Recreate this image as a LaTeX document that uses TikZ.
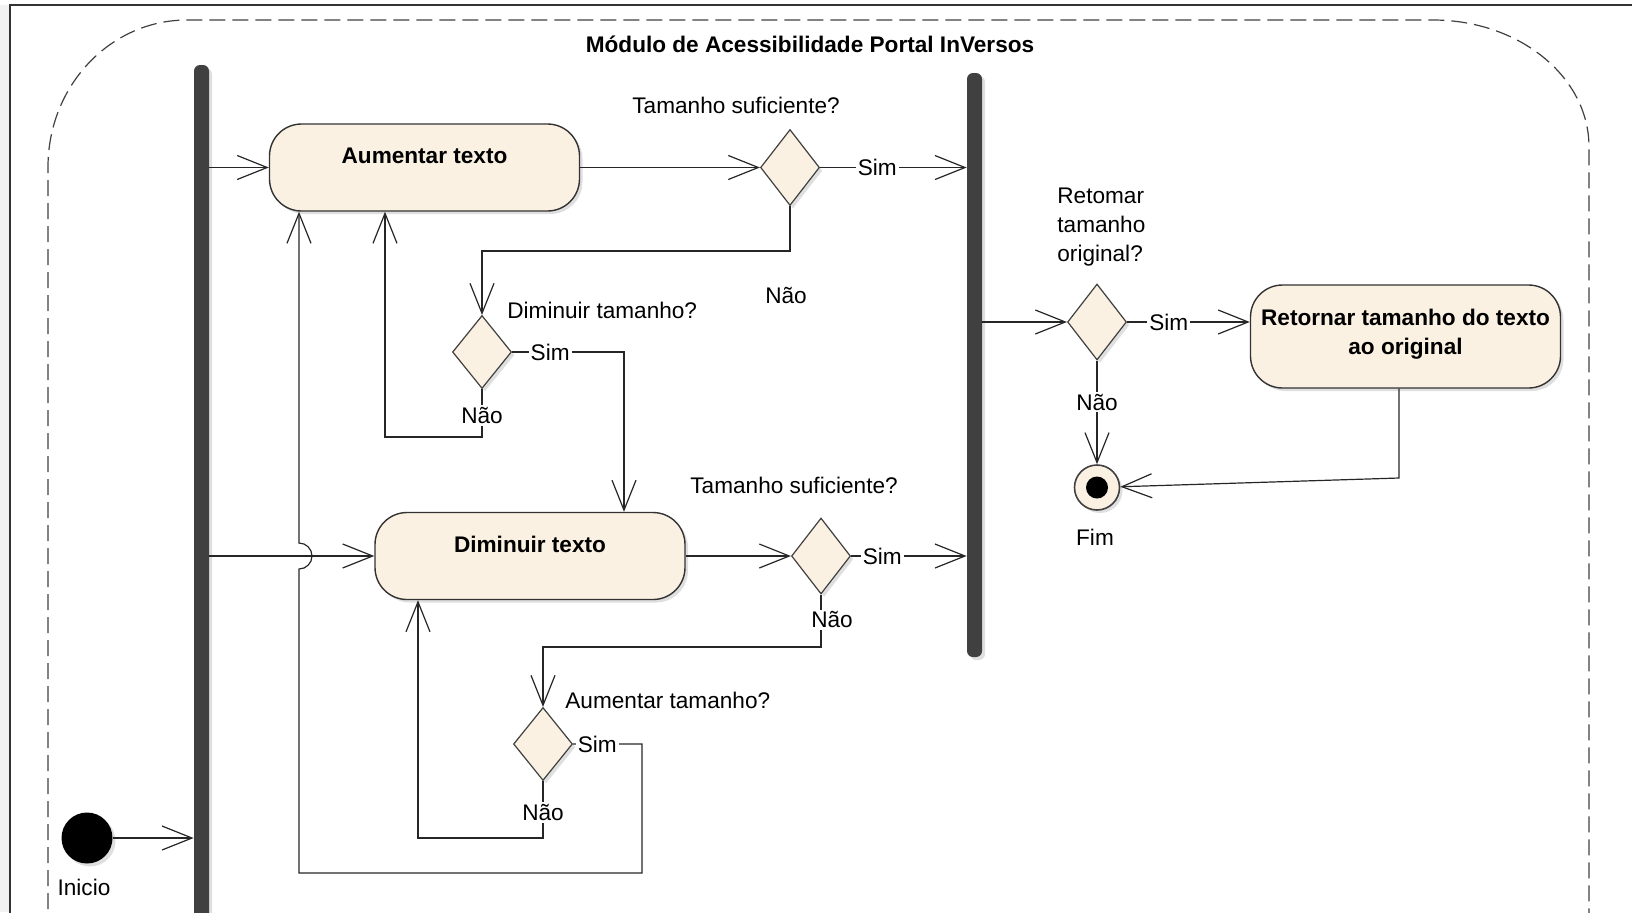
\documentclass[tikz,border=0pt]{standalone}
\usepackage{fontspec}
\setmainfont{Liberation Sans}
\usetikzlibrary{shapes.geometric,arrows.meta,shadows}

\definecolor{actfill}{RGB}{251,241,226}
\definecolor{bardark}{RGB}{64,64,64}

\tikzset{
  every node/.style={font=\fontsize{11.3}{13.5}\selectfont},
  sombra/.style={drop shadow={shadow xshift=1.5pt,shadow yshift=-1.5pt,opacity=0.25}},
  acao/.style={draw=black!80, fill=actfill, rounded corners=16pt, line width=0.7pt,
    minimum width=155pt, minimum height=43.5pt, align=center, sombra,
    font=\fontsize{11.3}{14.5}\selectfont\bfseries},
  decisao/.style={diamond, draw=black!75, fill=actfill, line width=0.6pt,
    minimum width=29.5pt, minimum height=38pt, inner sep=0pt, sombra},
  bar/.style={fill=bardark, minimum width=7.5pt, inner sep=0pt, rounded corners=3pt, sombra},
  inicial/.style={circle, fill=black, minimum size=25.5pt, inner sep=0pt, sombra},
  final/.style={circle, draw=black!75, fill=actfill, minimum size=22.5pt, inner sep=0pt,
    line width=0.8pt, sombra,
    path picture={\fill[black] (path picture bounding box.center) circle (5.5pt);}},
  txt/.style={inner sep=1pt},
  onl/.style={fill=white, inner sep=1pt},
  flow/.style={-{Straight Barb[length=15pt,width=12pt]}, line width=0.6pt, draw=black!85}
}

\begin{document}
\begin{tikzpicture}[x=0.5pt, y=-0.5pt]
\useasboundingbox (0,0) rectangle (1632,912);
\clip (0,0) rectangle (1632,912);

\fill[black!5] (0,5) rectangle (9,912);
\draw[black!80, line width=1pt] (10,1000) -- (10,5) -- (1700,5);
\draw[black!75, line width=0.6pt, dash pattern=on 8pt off 3.5pt]
  (48,1300) -- (48,167) arc[start angle=180, end angle=90, x radius=69.5pt, y radius=73.5pt]
  -- (1433,20) arc[start angle=90, end angle=0, x radius=78pt, y radius=63.5pt] -- (1589,1300);

\node[font=\fontsize{11.3}{13.5}\selectfont\bfseries] (titulo) at (810,44)
  {Módulo de Acessibilidade Portal InVersos};

% barras
\node[bar, minimum height=475pt] (forkL) at (201.5,540) {};
\node[bar, minimum height=292pt] (joinR) at (974.5,365) {};

% inicio e fim
\node[inicial] (inicio) at (87,838) {};
\node[txt] (lblinicio) at (84,887) {Inicio};
\node[final] (fim) at (1097,487.5) {};
\node[txt] (lblfim) at (1095,537) {Fim};

% acoes
\node[acao, text depth=12pt] (aum) at (424.5,167.5) {Aumentar texto};
\node[acao, text depth=12pt] (dim) at (530,556) {Diminuir texto};
\node[acao, minimum height=51.5pt, text depth=5pt] (ret) at (1405.5,336.5) {Retornar tamanho do texto\\ao original};

% decisoes
\node[decisao] (d1) at (790,167.5) {};
\node[decisao, minimum height=36.5pt] (d2) at (482,352) {};
\node[decisao] (d3) at (821,556) {};
\node[decisao, minimum height=36.5pt] (d4) at (543,744) {};
\node[decisao] (d5) at (1097,322) {};

\node[txt, anchor=west] (q1) at (630,105) {Tamanho suficiente?};
\node[txt, anchor=west] (q2) at (505,310) {Diminuir tamanho?};
\node[txt, anchor=west] (q3) at (688,485) {Tamanho suficiente?};
\node[txt, anchor=west] (q4) at (563,700) {Aumentar tamanho?};
\node[txt, anchor=north west, align=left, font=\fontsize{11.3}{14.3}\selectfont] (q5) at (1055,186)
  {Retomar\\tamanho\\original?};
\node[txt] (nao1) at (786,295) {Não};

% cantos
\coordinate (c1) at (482,251);
\coordinate (c2) at (624,352);
\coordinate (c3) at (482,437);
\coordinate (c4) at (385,437);
\coordinate (c5) at (642,744);
\coordinate (c6) at (642,873);
\coordinate (c7) at (299,873);
\coordinate (h1) at (299,569);
\coordinate (c8) at (821,647);
\coordinate (c9) at (543,647);
\coordinate (c10) at (543,838);
\coordinate (c11) at (418,838);
\coordinate (c12) at (1399,478);

% conexoes
\draw[flow] (inicio) -- (forkL.west |- inicio);
\draw[flow] (forkL.east |- aum) -- (aum.west);
\draw[flow] (forkL.east |- dim) -- (dim.west);
\draw[flow] (aum.east) -- (d1.west);
\draw[flow] (d1.east) -- node[onl, pos=.39] (sim1) {Sim} (d1.east -| joinR.west);
\draw[flow] (d1.south) |- (c1) -- (d2.north);
\draw[flow] (d2.east) -- node[onl, pos=.34] (sim2) {Sim} (c2) -- (c2 |- dim.north);
\draw[flow] (d2.south) -- node[onl, pos=.55] (nao2) {Não} (c3) -- (c4) -- (c4 |- aum.south);
\draw[flow] (d4.east) -- node[onl, pos=.35] (sim4) {Sim} (c5) -- (c6) -- (c7) -- (h1)
  arc[start angle=-90, end angle=90, radius=6.5pt] -- (c7 |- aum.south);
\draw[flow] (dim.east) -- (d3.west);
\draw[flow] (d3.east) -- node[onl, pos=.27] (sim3) {Sim} (d3.east -| joinR.west);
\draw[flow] (d3.south) -- node[onl, pos=.48, xshift=5.5pt] (nao3) {Não} (c8) -- (c9) -- (d4.north);
\draw[flow] (d4.south) -- node[onl, pos=.55] (nao4) {Não} (c10) -- (c11) -- (c11 |- dim.south);
\draw[flow] (joinR.east |- d5) -- (d5.west);
\draw[flow] (d5.east) -- node[onl, pos=.34] (sim5) {Sim} (d5.east -| ret.west);
\draw[flow] (d5.south) -- node[onl, pos=.4] (nao5) {Não} (fim.north);
\draw[flow] (c12 |- ret.south) -- (c12) -- (fim);
\end{tikzpicture}
\end{document}
